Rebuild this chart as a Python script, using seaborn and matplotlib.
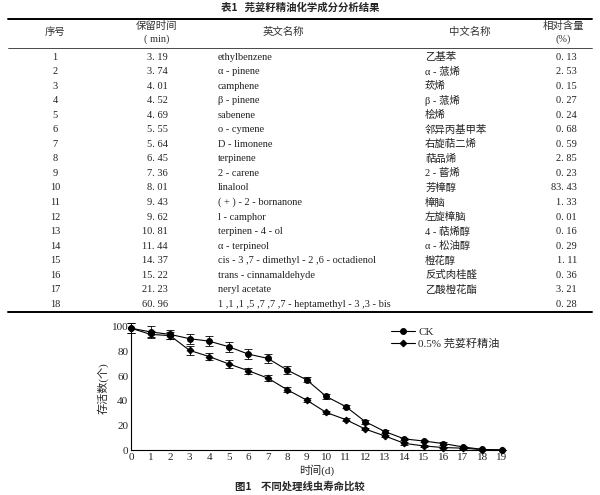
import numpy as np
import pandas as pd
import matplotlib
matplotlib.use('Agg')
import matplotlib.pyplot as plt
from matplotlib.lines import Line2D
import seaborn as sns

# ---- tabla 1 ----
nums = [str(i) for i in range(1, 19)]
ret_time = ['3. 19', '3. 74', '4. 01', '4. 52', '4. 69', '5. 55', '5. 64', '6. 45', '7. 36',
            '8. 01', '9. 43', '9. 62', '10. 81', '11. 44', '14. 37', '15. 22', '21. 23', '60. 96']
eng_name = ['ethylbenzene', 'α - pinene', 'camphene', 'β - pinene', 'sabenene', 'o - cymene',
            'D - limonene', 'terpinene', '2 - carene', 'linalool', '( + ) - 2 - bornanone',
            'l - camphor', 'terpinen - 4 - ol', 'α - terpineol',
            'cis - 3 ,7 - dimethyl - 2 ,6 - octadienol', 'trans - cinnamaldehyde',
            'neryl acetate', '1 ,1 ,1 ,5 ,7 ,7 ,7 - heptamethyl - 3 ,3 - bis']
chn_name = ['乙基苯', 'α - 蒎烯', '莰烯', 'β - 蒎烯', '桧烯', '邻异丙基甲苯', '右旋萜二烯',
            '萜品烯', '2 - 蒈烯', '芳樟醇', '樟脑', '左旋樟脑', '4 - 萜烯醇', 'α - 松油醇',
            '橙花醇', '反式肉桂醛', '乙酸橙花酯', '']
rel_content = ['0. 13', '2. 53', '0. 15', '0. 27', '0. 24', '0. 68', '0. 59', '2. 85', '0. 23',
               '83. 43', '1. 33', '0. 01', '0. 16', '0. 29', '1. 11', '0. 36', '3. 21', '0. 28']

# ---- figura 1 ----
days = list(range(0, 20))
ck = [99, 96, 94, 90.5, 88.5, 84, 78, 74.5, 65, 57, 43.5, 35.3, 23, 15, 9, 7.3, 5.2, 2.5, 0.5, 0]
ck_err = [4, 4.5, 3.5, 4, 4, 4, 4, 3.5, 3, 2, 2, 1.5, 1.5, 1, 1, 1, 1, 1, 0.5, 0]
oil = [99, 94, 93, 81, 76, 70, 64.5, 58.5, 49, 40.5, 30.5, 24.7, 17, 11.4, 5.4, 3.3, 2, 1.5, 0.3, 0]
oil_err = [4, 3, 3, 3.5, 3, 3, 2.5, 2.5, 2, 1.5, 1.5, 1.5, 1, 1, 1, 1, 0.5, 0.5, 0.3, 0]

sns.set_style('white')
plt.rcParams['font.family'] = ['Liberation Serif', 'Noto Sans CJK SC']
plt.rcParams['axes.unicode_minus'] = False

W, H = 600, 495
fig = plt.figure(figsize=(6, 4.95), dpi=100)


def fx(x):
    return x / W


def fy(y):
    return 1 - y / H


# titulo y lineas de la tabla
fig.text(fx(300), fy(8), '表1   芫荽籽精油化学成分分析结果', ha='center', va='center',
         fontsize=7.5, fontweight='bold', family=['Noto Sans CJK SC'])
fig.add_artist(Line2D([fx(8), fx(592)], [fy(19), fy(19)], color='black', lw=1.4))
fig.add_artist(Line2D([fx(8), fx(592)], [fy(48), fy(48)], color='black', lw=0.5))
fig.add_artist(Line2D([fx(8), fx(592)], [fy(312), fy(312)], color='black', lw=1.4))

hdr_kw = dict(ha='center', va='center', fontsize=7.5, color='#333333')
fig.text(fx(55), fy(32), '序号', **hdr_kw)
fig.text(fx(157), fy(26), '保留时间', **hdr_kw)
fig.text(fx(157), fy(39), '( min)', **hdr_kw)
fig.text(fx(283), fy(32), '英文名称', **hdr_kw)
fig.text(fx(470), fy(32), '中文名称', **hdr_kw)
fig.text(fx(563), fy(26), '相对含量', **hdr_kw)
fig.text(fx(563), fy(39), '(%)', **hdr_kw)

cell_kw = dict(va='center', fontsize=7.5, color='#222222')
for i in range(len(nums)):
    y = fy(57 + i * 14.55)
    fig.text(fx(55), y, nums[i], ha='center', **cell_kw)
    fig.text(fx(168), y, ret_time[i], ha='right', **cell_kw)
    fig.text(fx(218), y, eng_name[i], ha='left', **cell_kw)
    fig.text(fx(425), y, chn_name[i], ha='left', **cell_kw)
    fig.text(fx(577), y, rel_content[i], ha='right', **cell_kw)

# grafico de supervivencia
ax = fig.add_axes([fx(131), fy(450), fx(502 - 131), fy(327) - fy(450)])
df = pd.DataFrame({'day': days, 'CK': ck, 'oil': oil})

sns.lineplot(data=df, x='day', y='CK', ax=ax, color='black', lw=0.8, marker='o',
             markersize=4.2, markeredgecolor='black', label='CK', clip_on=False)
sns.lineplot(data=df, x='day', y='oil', ax=ax, color='black', lw=0.8, marker='D',
             markersize=3.4, markeredgecolor='black', label='0.5% 芫荽籽精油', clip_on=False)
ax.errorbar(days, ck, yerr=ck_err, fmt='none', ecolor='black', elinewidth=0.6,
            capsize=3, capthick=0.6, clip_on=False)
ax.errorbar(days, oil, yerr=oil_err, fmt='none', ecolor='black', elinewidth=0.6,
            capsize=3, capthick=0.6, clip_on=False)

ax.set_xlim(0, 19)
ax.set_ylim(0, 100)
ax.set_xticks(days)
ax.set_yticks([0, 20, 40, 60, 80, 100])
ax.tick_params(direction='in', length=3, width=0.6, labelsize=8, pad=2)
for s in ['top', 'right']:
    ax.spines[s].set_visible(False)
for s in ['left', 'bottom']:
    ax.spines[s].set_linewidth(0.8)
    ax.spines[s].set_color('black')
ax.set_xlabel('时间(d)', fontsize=8, labelpad=2)
ax.set_ylabel('存活数(个)', fontsize=8, labelpad=2)

leg = ax.legend(loc='upper left', bbox_to_anchor=(fx(385), fy(322)),
                bbox_transform=fig.transFigure, frameon=False, fontsize=8,
                handlelength=2.2, handletextpad=0.3, labelspacing=0.1, borderpad=0)

fig.text(fx(300), fy(486), '图1    不同处理线虫寿命比较', ha='center', va='center',
         fontsize=7.5, fontweight='bold', family=['Noto Sans CJK SC'])

fig.savefig('out.png', dpi=100)
